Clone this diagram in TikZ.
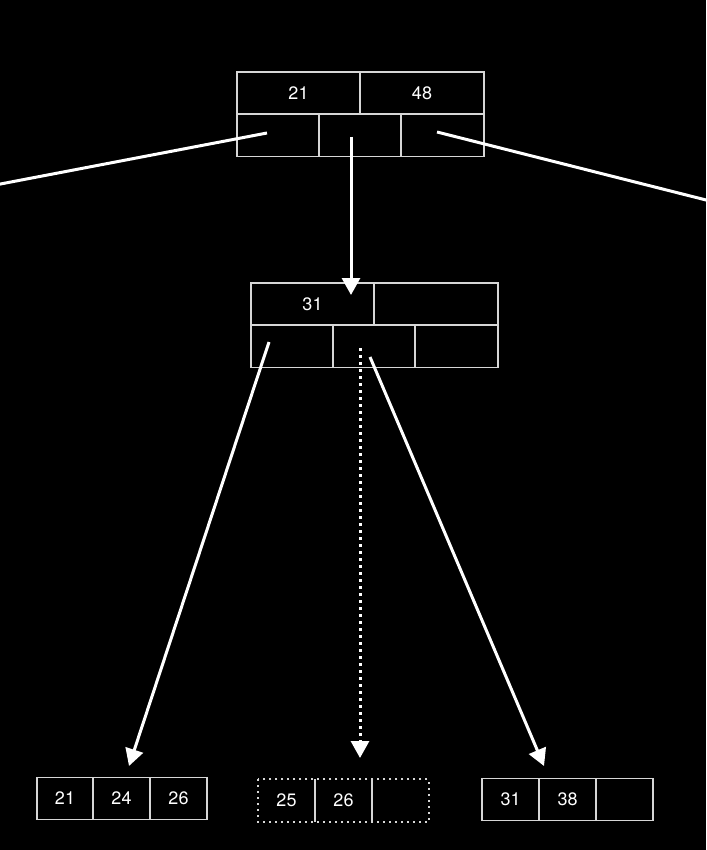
\documentclass[tikz,border=0pt]{standalone}
\usepackage{fontspec}
\setmainfont{TeX Gyre Heros}
\usepackage{tikz}
\usetikzlibrary{arrows.meta}
\definecolor{boxgray}{RGB}{214,214,214}

\begin{document}
\begin{tikzpicture}[x=1pt, y=-1pt,
    cell/.style={draw=boxgray, line width=1.8pt, inner sep=0pt, minimum height=42pt, text=white, font=\fontsize{18}{20}\selectfont},
    ghost/.style={inner sep=0pt, minimum height=42pt, minimum width=57pt, text=white, font=\fontsize{18}{20}\selectfont},
    ptr/.style={draw=white, line width=3pt, -{Triangle[length=17pt, width=18pt]}}]
            \fill[black] (0,0) rectangle (706,850);
            \useasboundingbox (0,0) rectangle (706,850);
            % root node
            \node[cell, minimum width=123pt] (r1) at (298.5,93) {21};
            \node[cell, minimum width=124pt] (r2) at (422,93) {48};
            \node[cell, minimum width=82pt] (rp1) at (278,135.5) {};
            \node[cell, minimum width=82pt] (rp2) at (360,135.5) {};
            \node[cell, minimum width=83pt] (rp3) at (442.5,135.5) {};
            % inner node
            \node[cell, minimum width=123pt] (i1) at (312.5,304) {31};
            \node[cell, minimum width=124pt] (i2) at (436,304) {};
            \node[cell, minimum width=82pt] (ip1) at (292,346.5) {};
            \node[cell, minimum width=82pt] (ip2) at (374,346.5) {};
            \node[cell, minimum width=83pt] (ip3) at (456.5,346.5) {};
            % leaves
            \node[cell, minimum width=56pt] (a1) at (65,798.5) {21};
            \node[cell, minimum width=57pt] (a2) at (121.5,798.5) {24};
            \node[cell, minimum width=57pt] (a3) at (178.5,798.5) {26};
            \node[ghost] (b1) at (286.5,800.5) {25};
            \node[ghost] (b2) at (343.5,800.5) {26};
            \node[ghost] (b3) at (400.5,800.5) {};
            \draw[boxgray, line width=1.8pt, dash pattern=on 2pt off 4pt] (b1.north west) rectangle (b3.south east);
            \draw[boxgray, line width=1.8pt] (b1.north east) -- (b1.south east);
            \draw[boxgray, line width=1.8pt] (b2.north east) -- (b2.south east);
            \node[cell, minimum width=57pt] (c1) at (510.5,799.5) {31};
            \node[cell, minimum width=57pt] (c2) at (567.5,799.5) {38};
            \node[cell, minimum width=57pt] (c3) at (624.5,799.5) {};
            % pointers
            \coordinate (offleft) at (-10,186);
            \coordinate (offright) at (716,202.5);
            \draw[white, line width=3pt] ([shift={(-11,-2.5)}]rp1.center) -- (offleft);
            \draw[white, line width=3pt] ([shift={(-5.5,-3.5)}]rp3.center) -- (offright);
            \draw[ptr] ([shift={(-9,1.5)}]rp2.center) -- ([shift={(38.5,-9)}]i1.center);
            \draw[ptr] ([shift={(-23,-4.5)}]ip1.center) -- ([shift={(7.5,-32.5)}]a2.center);
            \draw[ptr, dash pattern=on 3pt off 4pt] ([shift={(-14,1.5)}]ip2.center) -- ([shift={(16.5,-42.5)}]b2.center);
            \draw[ptr] ([shift={(-4,10.5)}]ip2.center) -- ([shift={(-23.5,-33.5)}]c2.center);
        \end{tikzpicture}
\end{document}
